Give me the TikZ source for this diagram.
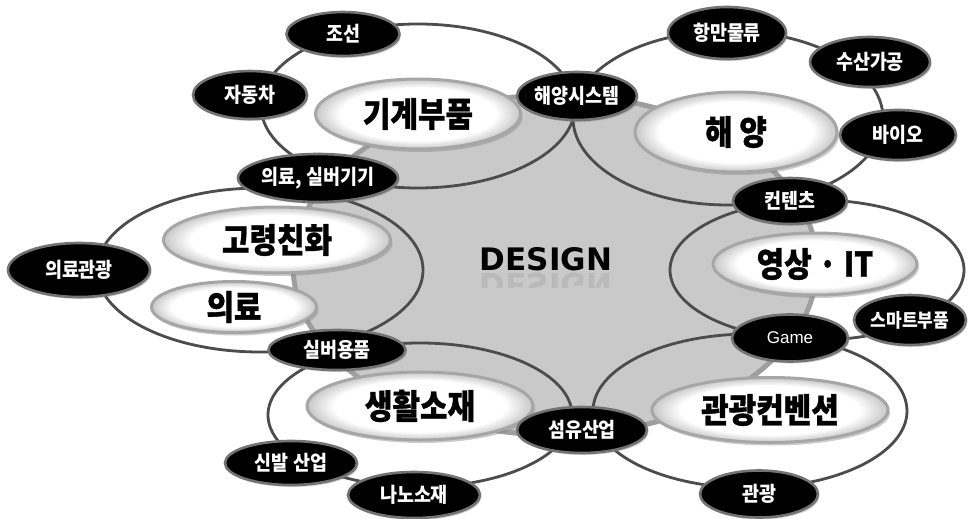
\documentclass[tikz,border=0pt]{standalone}
\usepackage{fontspec}
\newfontfamily\krb[FakeStretch=0.9]{Noto Sans CJK KR}
\newfontfamily\krw[FakeStretch=0.88,FakeBold=1]{Noto Sans CJK KR}
\newfontfamily\lat{Liberation Sans}
\newfontfamily\dv{DejaVu Sans}
\usetikzlibrary{shapes.geometric,shadows}
\pgfdeclareradialshading{bevel}{\pgfpointorigin}{color(0bp)=(white); color(19bp)=(white); color(25bp)=(black!22); color(50bp)=(black!22)}
\begin{document}
\begin{tikzpicture}[x=1pt,y=-1pt,
  sz/.style 2 args={minimum width=#1pt, minimum height=#2pt},
  blk/.style={ellipse, inner sep=0pt, fill=black, draw=black!55, line width=2.6pt,
    text=white, font=\krb\bfseries\fontsize{20.5}{20.5}\selectfont,
    drop shadow={shadow xshift=1.5pt, shadow yshift=-2pt, opacity=0.35}},
  wht/.style={ellipse, inner sep=0pt, draw=black!35, line width=3pt,
    shading=bevel,
    font=\krw\bfseries\fontsize{34}{34}\selectfont,
    drop shadow={shadow xshift=2pt, shadow yshift=-3pt, opacity=0.4}},
  ring/.style={draw=black!70, line width=2.8pt},
  core/.style={fill=black!21, draw=black!38, line width=5pt}
]
\fill[white] (0,0) rectangle (969,519);
\useasboundingbox (0,0) rectangle (969,519);

% central grey field
\draw[core] (555,265) ellipse [x radius=262, y radius=170];

% six outline rings
\draw[ring] (418,106) ellipse [x radius=157, y radius=82];
\draw[ring] (728,118) ellipse [x radius=155, y radius=87];
\draw[ring] (260,270) ellipse [x radius=163, y radius=82];
\draw[ring] (817,270) ellipse [x radius=147, y radius=70];
\draw[ring] (420,415) ellipse [x radius=152, y radius=72];
\draw[ring] (750,411) ellipse [x radius=157, y radius=77];

% main (white) fields
\node[wht, sz={205}{70}] (gigye) at (418,114) {기계부품};
\node[wht, sz={202}{80}] (haeyang) at (736,132) {해 양};
\node[wht, sz={227}{66}] (goryeong) at (277,240) {고령친화};
\node[wht, sz={165}{51}] (uiryo) at (234,307) {의료};
\node[wht, sz={204}{62}] (yeongsang) at (815,264) {영상 · IT};
\node[wht, sz={226}{68}] (saenghwal) at (420,406) {생활소재};
\node[wht, sz={236}{65}] (gwangkon) at (770,410) {관광컨벤션};

% black items
\node[blk, sz={113}{44}] (joseon) at (343,34) {조선};
\node[blk, sz={114}{48}] (jadong) at (250,95) {자동차};
\node[blk, sz={160}{48}] (silver) at (318,178) {의료, 실버기기};
\node[blk, sz={114}{48}] (haesys) at (577,96) {해양시스템};
\node[blk, sz={118}{52}] (hangman) at (727,33) {항만물류};
\node[blk, sz={120}{50}] (susan) at (870,62) {수산가공};
\node[blk, sz={116}{50}] (bio) at (898,135) {바이오};
\node[blk, sz={114}{46}] (content) at (790,201) {컨텐츠};
\node[blk, sz={142}{54}] (medtour) at (79,270) {의료관광};
\node[blk, sz={112}{50}, font=\krb\bfseries\fontsize{19}{19}\selectfont] (smart) at (910,320) {스마트부품};
\node[blk, sz={116}{47}, font=\lat\fontsize{17}{17}\selectfont] (game) at (790,338) {Game};
\node[blk, sz={137}{40}] (silvergoods) at (337,350) {실버용품};
\node[blk, sz={130}{46}] (fiber) at (582,430) {섬유산업};
\node[blk, sz={132}{44}] (shoe) at (291,463) {신발 산업};
\node[blk, sz={132}{46}] (nano) at (414,495) {나노소재};
\node[blk, sz={118}{47}] (tour) at (759,494) {관광};

% centre title with faint reflection
\node[inner sep=0pt, font=\dv\bfseries\fontsize{31}{31}\selectfont] (design) at (546,259) {DESIGN};
\begin{scope}
  \clip (470,272) rectangle (625,287);
  \node[anchor=north, inner sep=0pt, text=black!50, opacity=0.2,
        font=\dv\bfseries\fontsize{31}{31}\selectfont] (designrefl) at (546,273) {\scalebox{1}[-1]{DESIGN}};
\end{scope}
\end{tikzpicture}
\end{document}
